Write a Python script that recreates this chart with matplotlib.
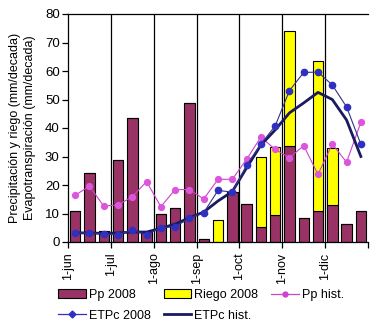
import numpy as np
import matplotlib
matplotlib.use("Agg")
import matplotlib.pyplot as plt
import matplotlib.transforms as mtrans
from matplotlib.lines import Line2D
from matplotlib.patches import Patch

plt.rcParams['font.family'] = ['Liberation Sans', 'DejaVu Sans']

month_labels = ["1-jun", "1-jul", "1-ago", "1-sep", "1-oct", "1-nov", "1-dic"]
pp_2008 = [11.0, 24.2, 3.8, 28.7, 43.4, 3.5, 9.7, 11.9, 48.7, 1.0, 0.0, 17.5,
           13.2, 5.1, 9.4, 33.7, 8.3, 10.9, 12.9, 6.2, 10.9]
riego_2008 = [0, 0, 0, 0, 0, 0, 0, 0, 0, 0, 7.7, 0,
              0, 24.6, 23.8, 40.2, 0, 52.5, 20.0, 0, 0]
pp_hist = [16.4, 19.6, 12.6, 13.0, 15.9, 21.2, 12.4, 18.4, 18.4, 15.1, 22.0, 22.0,
           29.0, 36.8, 32.5, 29.6, 33.8, 23.7, 34.4, 28.0, 42.0]
etpc_2008 = [3.0, 3.3, 2.7, 2.6, 4.2, 2.5, 5.0, 5.4, 8.3, 10.3, 18.1, 17.5,
             26.9, 34.4, 40.7, 53.1, 59.5, 59.6, 55.1, 47.4, 34.3]
etpc_hist = [3.2, 3.2, 3.0, 3.2, 3.5, 3.5, 4.8, 6.3, 8.5, 10.5, 14.4, 17.7,
             26.0, 34.0, 39.3, 45.3, 48.8, 52.5, 50.0, 42.8, 30.0]

fig = plt.figure(figsize=(3.76, 3.28), dpi=100)
ax = fig.add_axes([68/376, 1-242/328, 300/376, 228/328])

x = np.arange(len(pp_2008))
c_pp = '#993366'
c_rg = '#FFFF00'
c_ph = '#CC44CC'
c_e8 = '#3030C0'
c_eh = '#1A1A60'

ax.bar(x, pp_2008, width=0.73, color=c_pp, edgecolor='black', linewidth=0.8, zorder=2)
ax.bar(x, riego_2008, width=0.73, bottom=pp_2008, color=c_rg, edgecolor='black', linewidth=0.8, zorder=2)
ax.plot(x, pp_hist, color=c_ph, lw=0.8, marker='o', ms=4.2, mfc='#DD55DD', mec='#DD55DD', zorder=3)
ax.plot(x, etpc_hist, color=c_eh, lw=2.0, zorder=4)
ax.plot(x, etpc_2008, color='#333388', lw=0.8, marker='o', ms=4.5, mfc=c_e8, mec=c_e8, zorder=5)

ax.set_xlim(-0.5, 20.5)
ax.set_ylim(0, 80)
ax.set_yticks(np.arange(0, 81, 10))
bounds = np.arange(-0.5, 21, 3)
ax.set_xticks(bounds)
ax.set_xticklabels(month_labels + [""], rotation=90, fontsize=9)
offset = mtrans.ScaledTranslation(4/100, 0, fig.dpi_scale_trans)
for lbl in ax.get_xticklabels():
    lbl.set_transform(lbl.get_transform() + offset)
for b in bounds[1:-1]:
    ax.axvline(b, color='black', lw=0.9, zorder=1)
ax.tick_params(axis='both', direction='out', length=4, width=0.9, colors='black', labelsize=9.5)
ax.tick_params(axis='x', labelsize=9)
ax.tick_params(axis='y', pad=2)
ax.spines['right'].set_visible(False)
for s in ['left', 'bottom', 'top']:
    ax.spines[s].set_linewidth(0.9)

ax.set_ylabel("Precipitación y riego (mm/decada)\nEvapotranspiración (mm/decada)", fontsize=9,
              linespacing=1.4, labelpad=6)

handles = [
    Patch(facecolor=c_pp, edgecolor='black', linewidth=0.8),
    Line2D([], [], color=c_e8, lw=0.9, marker='D', ms=3.5, mfc=c_e8, mec=c_e8),
    Patch(facecolor=c_rg, edgecolor='black', linewidth=0.8),
    Line2D([], [], color=c_eh, lw=2.0),
    Line2D([], [], color=c_ph, lw=0.9, marker='o', ms=3.5, mfc=c_ph, mec=c_ph),
]
labels = ["Pp 2008", "ETPc 2008", "Riego 2008", "ETPc hist.", "Pp hist."]
fig.legend(handles, labels, ncol=3, frameon=False, fontsize=9,
           loc='upper left', bbox_to_anchor=(58/376, 1-289/328),
           handlelength=2.2, handletextpad=0.25, columnspacing=1.05,
           labelspacing=0.7, borderpad=0, borderaxespad=0)

fig.savefig("out.png", dpi=100)
